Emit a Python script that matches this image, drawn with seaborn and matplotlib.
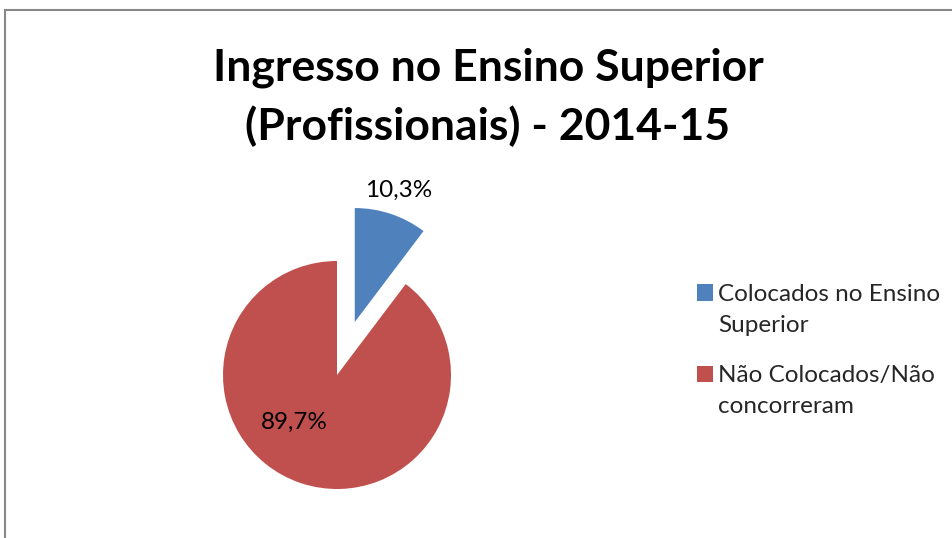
import matplotlib
matplotlib.use("Agg")
import matplotlib.pyplot as plt
import seaborn as sns
import numpy as np
from matplotlib.patches import Rectangle
from matplotlib.legend_handler import HandlerPatch

categories = ["Colocados no Ensino\nSuperior", "Não Colocados/Não\nconcorreram"]
values = [10.3, 89.7]
value_labels = ["10,3%", "89,7%"]
colors = ["#4F81BD", "#C0504D"]
title = "Ingresso no Ensino Superior\n(Profissionais) - 2014-15"

sns.set_theme(style="white")
plt.rcParams['font.family'] = ['Lato', 'DejaVu Sans']

W, H = 953, 538
fig = plt.figure(figsize=(W / 100, H / 100), dpi=100)
fig.patch.set_facecolor("white")

R = 114.0
cx, cy = 337, 375
x0, x1, ytop, ybot = 150, 560, 150, 520
ax = fig.add_axes([x0 / W, 1 - ybot / H, (x1 - x0) / W, (ybot - ytop) / H])

wedges, _ = ax.pie(values, colors=colors, startangle=90, counterclock=False,
                   explode=[0.49, 0], radius=1.0, center=(0, 0),
                   wedgeprops=dict(linewidth=0), frame=False)
ax.set_xlim((x0 - cx) / R, (x1 - cx) / R)
ax.set_ylim(-(ybot - cy) / R, (cy - ytop) / R)
ax.set_aspect("equal")
ax.axis("off")

label_pos = [(1.22, None), (0.56, 228.0)]
for w, lab, (dist, ang) in zip(wedges, value_labels, label_pos):
    th = (w.theta1 + w.theta2) / 2 if ang is None else ang
    c = w.center
    r = np.deg2rad(th)
    ax.text(c[0] + dist * np.cos(r), c[1] + dist * np.sin(r), lab,
            ha="center", va="center", fontsize=17.5, color="black")

fig.text(488 / W, 1 - 97 / H, title, ha="center", va="center", fontsize=32,
         fontweight="bold", linespacing=1.5, color="black")


def top_square(legend, orig_handle, xdescent, ydescent, width, height, fontsize):
    shift = 0.72 * fontsize
    return Rectangle((-xdescent, -ydescent + shift), width, height)


leg = fig.legend(wedges, categories, loc="upper left",
                 bbox_to_anchor=(675 / W, 1 - 262 / H), frameon=False,
                 fontsize=17.5, handlelength=0.66, handleheight=0.66,
                 handletextpad=0.22, labelspacing=1.2,
                 handler_map={type(wedges[0]): HandlerPatch(patch_func=top_square)})
for t in leg.get_texts():
    t.set_linespacing(1.6)

fig.patches.append(Rectangle((5 / W, -0.1), 2.0, (H - 10) / H + 0.1,
                             transform=fig.transFigure, fill=False,
                             edgecolor="#888888", linewidth=1.5))

fig.savefig("out.png", dpi=100)
